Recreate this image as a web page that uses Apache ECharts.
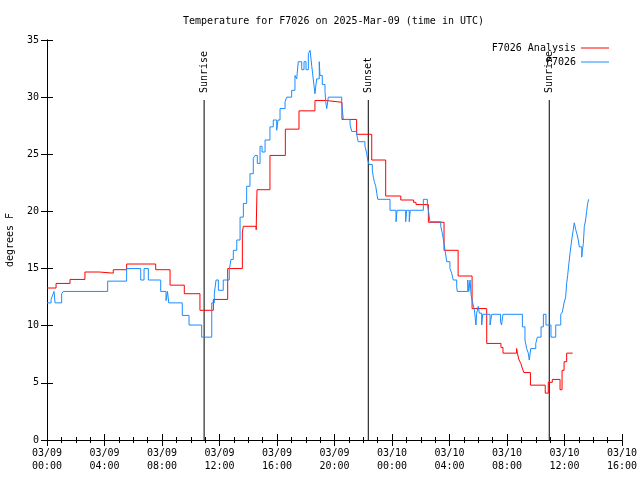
<!DOCTYPE html>
<html><head><meta charset="utf-8">
<script src="https://cdn.jsdelivr.net/npm/echarts@6/dist/echarts.min.js"></script>
<style>html,body{margin:0;padding:0;background:#fff}#c{width:640px;height:480px}</style>
</head><body><div id="c"></div>
<script>
// Hours since 03/09 00:00 UTC
var xTickLabels = ['03/09\n00:00','03/09\n04:00','03/09\n08:00','03/09\n12:00','03/09\n16:00','03/09\n20:00','03/10\n00:00','03/10\n04:00','03/10\n08:00','03/10\n12:00','03/10\n16:00'];
var yTicks = [0,5,10,15,20,25,30,35];

var redHours = [0, 0.63, 1.6, 2.64, 3.64, 4.61, 5.54, 7.56, 8.56, 9.55,
  10.64, 11.57, 12.57, 13.59, 13.66, 14.55, 14.61, 15.51, 16.58, 17.53,
  18.64, 19.46, 20.52, 21.54, 22.59, 23.56, 24.61, 25.5, 25.67, 26.53,
  27.62, 28.6, 29.57, 30.59, 31.58, 31.72, 32.67, 32.72, 32.84, 32.96,
  33.06, 33.17, 33.63, 34.66, 34.87, 35.15, 35.69, 35.83, 35.97, 36.15,
  36.57];
var redTemps = [13.3, 13.7, 14.05, 14.7, 14.6, 14.9, 15.4, 14.9, 13.55, 12.8,
  11.35, 12.3, 15.0, 18.2, 18.7, 18.4, 21.9, 24.9, 27.2, 28.8,
  29.7, 29.55, 28.05, 26.75, 24.5, 21.35, 21.0, 20.8, 20.6, 19.05,
  16.6, 14.35, 11.5, 8.45, 8.1, 7.6, 8.0, 7.6, 7.0, 6.7,
  6.3, 5.9, 4.8, 4.1, 5.05, 5.3, 4.4, 6.1, 6.85, 7.6,
  7.6];

var blueHours = [0, 0.28, 0.40, 0.49, 0.56, 1.02, 1.13, 4.22, 5.54, 6.52,
  6.75, 7.05, 7.91, 8.28, 8.38, 8.47, 9.41, 9.88, 10.76, 11.46,
  11.64, 11.76, 11.92, 12.26, 12.68, 12.80, 12.96, 13.20, 13.43, 13.66,
  13.89, 14.12, 14.35, 14.47, 14.63, 14.82, 14.96, 15.17, 15.51, 15.74,
  15.98, 16.07, 16.21, 16.56, 16.68, 17.02, 17.25, 17.37, 17.48, 17.72,
  17.88, 18.02, 18.18, 18.30, 18.41, 18.53, 18.64, 18.76, 18.94, 18.99,
  19.15, 19.34, 19.39, 19.46, 19.57, 20.50, 20.61, 21.08, 21.20, 21.54,
  21.65, 22.12, 22.24, 22.31, 22.40, 22.63, 22.70, 22.77, 22.87, 22.94,
  23.01, 23.86, 24.28, 24.35, 24.95, 25.02, 25.20, 25.27, 26.18, 26.46,
  26.53, 26.64, 27.39, 27.50, 27.62, 27.69, 27.81, 28.03, 28.15, 28.26,
  28.50, 28.54, 29.27, 29.34, 29.43, 29.50, 29.61, 29.73, 29.84, 29.89,
  30.00, 30.07, 30.24, 30.31, 30.82, 30.94, 31.55, 31.62, 31.72, 33.07,
  33.25, 33.37, 33.48, 33.55, 33.65, 34.00, 34.11, 34.37, 34.53, 34.71,
  35.06, 35.39, 35.74, 35.85, 35.97, 36.08, 36.15, 36.22, 36.31, 36.38,
  36.50, 36.61, 36.68, 36.78, 36.85, 36.96, 37.03, 37.20, 37.24, 37.31,
  37.38, 37.47, 37.54, 37.61, 37.68];
var blueTemps = [12.0, 12.3, 12.7, 13.0, 12.0, 12.8, 13.0, 13.9, 15.0, 14.0,
  15.0, 14.0, 13.0, 12.2, 13.0, 12.0, 10.9, 10.06, 9.0, 12.0,
  12.8, 14.0, 13.1, 14.0, 14.9, 15.8, 16.6, 17.5, 19.5, 20.7,
  22.2, 23.3, 24.65, 24.9, 24.2, 25.7, 25.2, 26.25, 27.4, 28.0,
  27.1, 28.0, 29.0, 29.6, 30.0, 30.6, 31.9, 31.6, 33.1, 32.4,
  33.1, 32.4, 33.8, 34.1, 32.8, 31.5, 30.3, 31.6, 33.1, 31.9,
  31.1, 30.5, 29.6, 29.0, 30.0, 29.5, 28.05, 27.6, 27.0, 26.75,
  26.1, 25.7, 25.1, 24.5, 24.1, 23.6, 23.0, 22.6, 22.2, 21.6,
  21.06, 20.1, 19.1, 20.1, 19.1, 20.1, 19.1, 20.1, 21.06, 20.6,
  20.1, 19.1, 18.7, 18.1, 17.2, 16.6, 15.6, 15.0, 14.6, 14.0,
  13.4, 13.0, 14.0, 13.0, 14.0, 12.7, 12.0, 11.4, 10.06, 11.1,
  11.7, 11.1, 10.06, 11.0, 10.06, 11.0, 10.35, 10.06, 11.0, 9.9,
  8.75, 8.0, 7.6, 7.0, 8.0, 8.45, 9.0, 9.9, 11.0, 10.06,
  9.0, 10.06, 11.0, 11.2, 12.0, 12.5, 13.7, 14.4, 15.5, 16.3,
  17.5, 18.4, 19.0, 18.4, 18.1, 17.5, 16.9, 16.0, 16.5, 17.2,
  18.7, 19.25, 20.0, 20.7, 21.06];

var sunNames = ['Sunrise', 'Sunset', 'Sunrise'];
var sunHours = [10.93, 22.35, 34.94];
var sunLineTop = 29.75;

var FONT = 'DejaVu Sans Mono';
var chart = echarts.init(document.getElementById('c'), null, {renderer: 'canvas'});

function zip(a, b) { return a.map(function (v, i) { return [v, b[i]]; }); }

var series = [];
sunHours.forEach(function (h, i) {
  series.push({
    type: 'line', silent: true, symbol: 'none', animation: false,
    lineStyle: {color: '#000', width: 1}, z: 1,
    data: [[h, 0], [h, sunLineTop]]
  });
  series.push({
    type: 'scatter', silent: true, symbolSize: 0, animation: false,
    itemStyle: {color: '#000', opacity: 1}, z: 1,
    data: [[h, sunLineTop]],
    label: {show: true, formatter: sunNames[i], position: 'top', distance: 7,
      rotate: 90, align: 'left', verticalAlign: 'middle', opacity: 1,
      fontFamily: FONT, fontSize: 10, color: '#000'}
  });
});
series.push({
  name: 'F7026 Analysis', type: 'line', step: 'end', symbol: 'none', animation: false,
  lineStyle: {color: '#ff0000', width: 1}, itemStyle: {color: '#ff0000'}, z: 3,
  data: zip(redHours, redTemps)
});
series.push({
  name: 'F7026', type: 'line', step: 'end', symbol: 'none', animation: false,
  lineStyle: {color: '#1a8cff', width: 1}, itemStyle: {color: '#1a8cff'}, z: 4,
  data: zip(blueHours, blueTemps)
});

var axisLineStyle = {show: true, lineStyle: {color: '#000', width: 1}};
var tickCommon = {show: true, inside: true, length: 6, lineStyle: {color: '#000', width: 1}};
var legendCommon = {right: 31, align: 'right', icon: 'rect', itemWidth: 28, itemHeight: 1, padding: 0,
  textStyle: {fontFamily: FONT, fontSize: 10, color: '#000'}};

var option = {
  backgroundColor: '#fff',
  animation: false,
  title: {text: 'Temperature for F7026 on 2025-Mar-09 (time in UTC)', left: 183, top: 16, padding: 0,
    textStyle: {fontFamily: FONT, fontSize: 10, fontWeight: 'normal', color: '#000'}},
  legend: [
    Object.assign({data: ['F7026 Analysis'], top: 43}, legendCommon),
    Object.assign({data: ['F7026'], top: 57}, legendCommon)
  ],
  grid: {left: 47, top: 40, right: 18, bottom: 40, containLabel: false, outerBoundsMode: 'none'},
  xAxis: [
    {type: 'value', position: 'bottom', min: 0, max: 40, interval: 4,
     axisLine: axisLineStyle, axisTick: tickCommon,
     minorTick: {show: true, splitNumber: 4, length: 3, lineStyle: {color: '#000'}},
     splitLine: {show: false},
     axisLabel: {margin: 7, fontFamily: FONT, fontSize: 10, color: '#000', lineHeight: 13,
       showMinLabel: true, showMaxLabel: true, hideOverlap: false,
       formatter: function (v) { return xTickLabels[Math.round(v / 4)]; }}},
    {type: 'value', position: 'top', min: 0, max: 40, interval: 4,
     axisLine: axisLineStyle, axisTick: tickCommon,
     minorTick: {show: true, splitNumber: 4, length: 3, lineStyle: {color: '#000'}},
     splitLine: {show: false}, axisLabel: {show: false}}
  ],
  yAxis: [
    {type: 'value', position: 'left', min: 0, max: 35, interval: 5,
     name: 'degrees F', nameLocation: 'middle', nameGap: 32, nameRotate: 90,
     nameTextStyle: {fontFamily: FONT, fontSize: 10, color: '#000'},
     axisLine: axisLineStyle, axisTick: tickCommon, splitLine: {show: false},
     axisLabel: {margin: 8, fontFamily: FONT, fontSize: 10, color: '#000',
       formatter: function (v) { return yTicks.indexOf(v) >= 0 ? String(v) : ''; }}},
    {type: 'value', position: 'right', min: 0, max: 35, interval: 5,
     axisLine: axisLineStyle, axisTick: tickCommon, splitLine: {show: false},
     axisLabel: {show: false}}
  ],
  series: series
};
chart.setOption(option);
</script>
</body></html>
